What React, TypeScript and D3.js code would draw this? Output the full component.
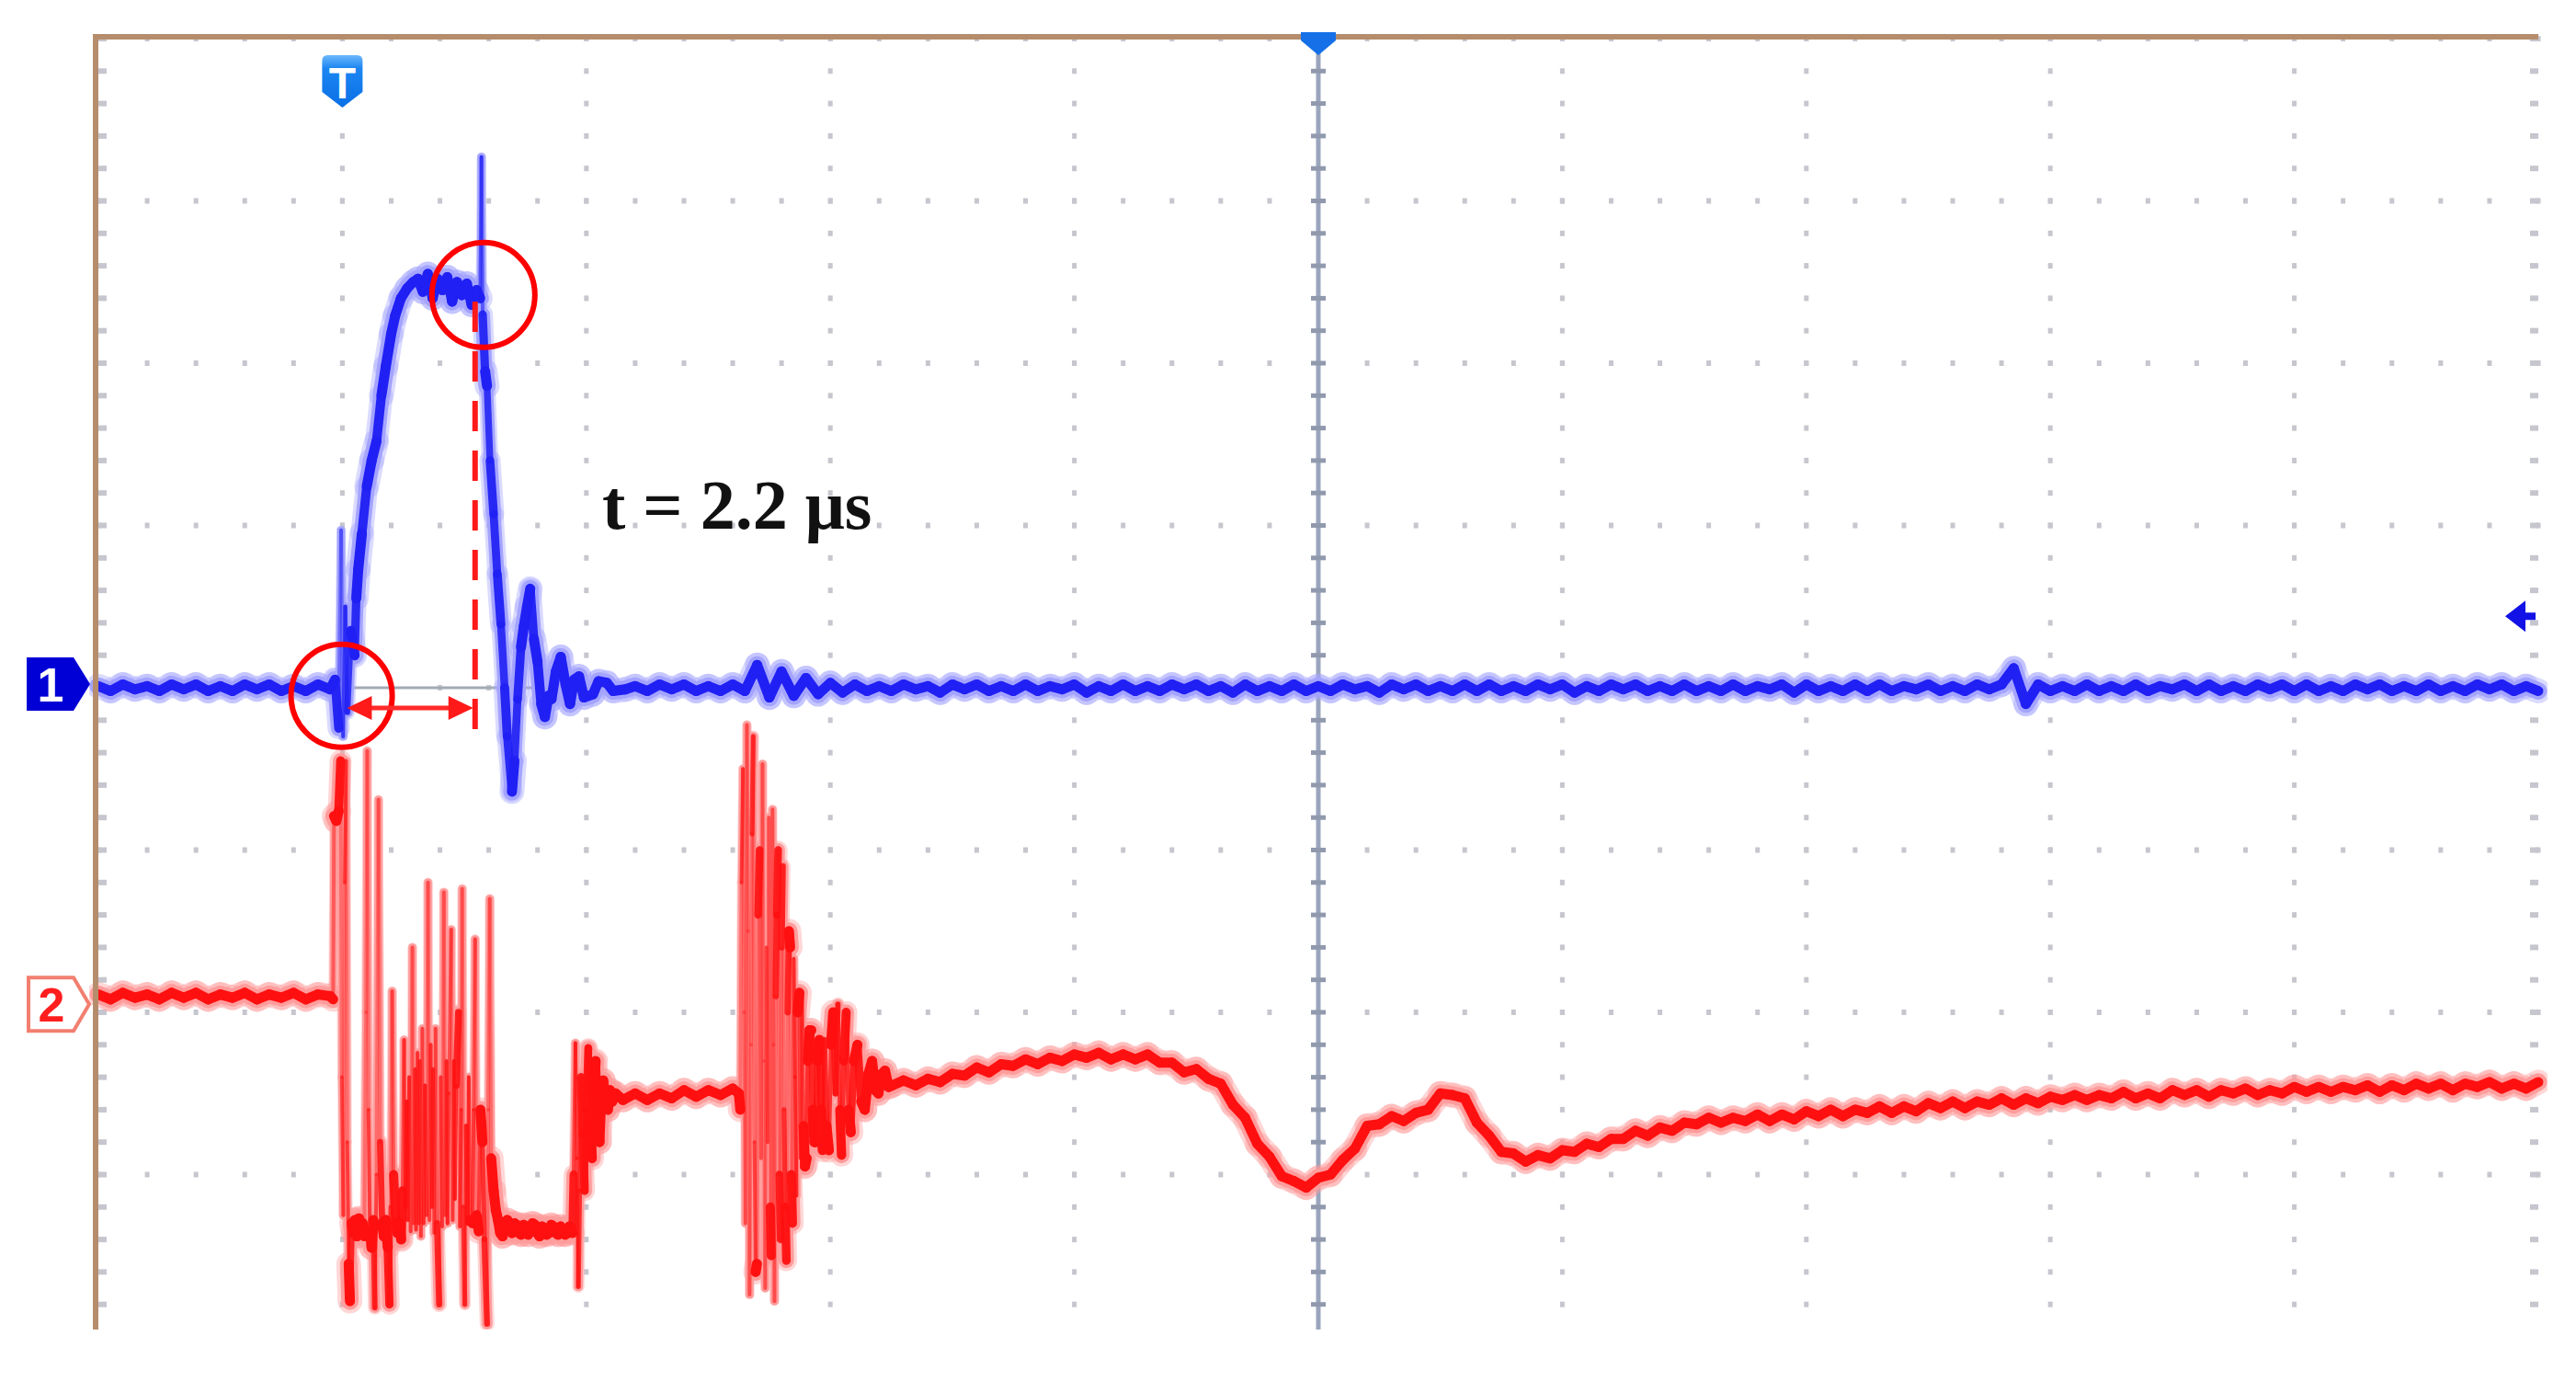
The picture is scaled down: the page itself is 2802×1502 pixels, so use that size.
import React from 'react';
import * as d3 from 'd3';

// ---------- data (time in screen divisions 0..10, amplitude in divisions, ch1 ground = 0) ----------
const bluePreT0 = 0;
const bluePreStep = 0.05;
const bluePre = [0.01, -0.02, 0.02, -0.01, 0.01, -0.02, 0.02, -0.01, 0.02, -0.02, 0.01, -0.02, 0.02, -0.01, 0.02, -0.02, 0.01, -0.02, 0.02, -0.01];

const bluePulse: [number, number][] = [
  [0.97, 0.05], [0.985, -0.25], [0.995, 0.97], [1.003, -0.3], [1.012, 0.5], [1.02, -0.15], [1.035, 0.35], [1.05, 0.2],
  [1.057, 0.55], [1.065, 0.73], [1.08, 0.95], [1.1, 1.24], [1.12, 1.4], [1.14, 1.52], [1.16, 1.8], [1.178, 1.98],
  [1.2, 2.18], [1.216, 2.29], [1.24, 2.4], [1.265, 2.46], [1.29, 2.5], [1.31, 2.52], [1.33, 2.44], [1.35, 2.55],
  [1.37, 2.4], [1.39, 2.52], [1.41, 2.45], [1.43, 2.53], [1.45, 2.38], [1.47, 2.5], [1.49, 2.42], [1.51, 2.49],
  [1.53, 2.36], [1.55, 2.45], [1.565, 2.4], [1.57, 3.27], [1.575, 2.3], [1.585, 1.95], [1.593, 1.86], [1.605, 1.4],
  [1.62, 1.07], [1.635, 0.7], [1.65, 0.39], [1.665, 0.0], [1.676, -0.3], [1.695, -0.64], [1.705, -0.45], [1.718, -0.07],
  [1.732, 0.25], [1.744, 0.38], [1.757, 0.5], [1.77, 0.61], [1.785, 0.3], [1.8, 0.16], [1.815, -0.1], [1.83, -0.18],
  [1.845, -0.05], [1.857, -0.07], [1.875, 0.1], [1.895, 0.19], [1.915, 0.02], [1.933, -0.1], [1.95, 0.05], [1.97, 0.07],
  [1.99, -0.06], [2.027, -0.04], [2.05, 0.04], [2.084, 0.03], [2.11, -0.02], [2.16, -0.01],
];

const blueTailT0 = 2.2;
const blueTailStep = 0.05;
const blueTail = [
  0.01, -0.02, 0.02, -0.01, 0.02, -0.02, 0.01, -0.02, 0.02, -0.02,
  0.14, -0.06, 0.1, -0.05, 0.06, -0.04, 0.03, -0.03, 0.02, -0.02,
  0.01, -0.02, 0.02, -0.01, 0.01, -0.03, 0.02, -0.01, 0.02, -0.02,
  0.01, -0.02, 0.02, -0.02, 0.01, -0.01, 0.02, -0.03, 0.01, -0.02,
  0.02, -0.02, 0.01, -0.02, 0.02, -0.01, 0.02, -0.02, 0.01, -0.03,
  0.02, -0.02, 0.01, -0.02, 0.02, -0.02, 0.01, -0.02, 0.02, -0.01,
  0.01, -0.03, 0.02, -0.01, 0.02, -0.02, 0.01, -0.02, 0.02, -0.02,
  0.02, -0.02, 0.01, -0.02, 0.02, -0.01, 0.02, -0.03, 0.01, -0.02,
  0.02, -0.01, 0.02, -0.02, 0.01, -0.02, 0.02, -0.02, 0.01, -0.02,
  0.02, -0.02, 0.01, -0.01, 0.02, -0.03, 0.02, -0.02, 0.01, -0.02,
  0.02, -0.02, 0.02, -0.02, 0.01, -0.01, 0.02, -0.02, 0.01, -0.02,
  0.02, -0.01, 0.02, 0.12, -0.1, 0.02, -0.02, 0.01, -0.02, 0.02,
  -0.02, 0.01, -0.02, 0.02, -0.02, 0.01, -0.01, 0.02, -0.02, 0.02,
  -0.02, 0.01, -0.02, 0.02, -0.01, 0.02, -0.02, 0.02, -0.02, 0.01,
  -0.02, 0.02, -0.01, 0.02, -0.02, 0.01, -0.02, 0.02, -0.02, 0.01,
  -0.02, 0.02, -0.01, 0.02, -0.02, 0.01, -0.02,
];

const redPreT0 = 0;
const redPreStep = 0.05;
const redPre = [-1.89, -1.92, -1.88, -1.91, -1.89, -1.92, -1.88, -1.91, -1.88, -1.92, -1.89, -1.91, -1.88, -1.92, -1.89, -1.91, -1.88, -1.92, -1.89, -1.9];

const redBurst1: [number, number][] = [
  [0.962, -1.92], [0.966, -0.79], [0.975, -0.82], [0.985, -0.76], [0.993, -0.45], [0.998, -2.4], [1.004, -3.25], [1.01, -1.2],
  [1.015, -0.45], [1.02, -2.8], [1.026, -3.55], [1.031, -3.78], [1.038, -3.3], [1.045, -3.36], [1.052, -3.28], [1.06, -3.38],
  [1.068, -3.27], [1.076, -3.35], [1.083, -3.3], [1.09, -3.38], [1.097, -2.0], [1.102, -0.39], [1.107, -2.6], [1.113, -3.35],
  [1.12, -3.45], [1.127, -3.28], [1.133, -3.82], [1.14, -3.0], [1.148, -0.69], [1.155, -2.8], [1.163, -3.3], [1.17, -3.38],
  [1.178, -3.28], [1.186, -3.45], [1.193, -3.8], [1.199, -3.2], [1.204, -1.87], [1.21, -3.0], [1.219, -3.3], [1.226, -3.36],
  [1.234, -3.3], [1.241, -3.4], [1.247, -3.1], [1.253, -2.17], [1.259, -3.2], [1.264, -2.55], [1.268, -3.28], [1.274, -2.4],
  [1.28, -3.35], [1.287, -1.6], [1.293, -3.3], [1.298, -2.35], [1.302, -3.34], [1.308, -2.25], [1.313, -3.3], [1.317, -2.3],
  [1.322, -3.38], [1.328, -2.1], [1.333, -3.3], [1.339, -2.45], [1.345, -3.25], [1.351, -1.2], [1.357, -3.28], [1.362, -2.2],
  [1.367, -3.2], [1.372, -2.35], [1.377, -3.36], [1.382, -2.1], [1.388, -3.3], [1.397, -3.8], [1.403, -2.4], [1.409, -3.32],
  [1.416, -1.26], [1.422, -3.25], [1.427, -2.3], [1.431, -3.3], [1.437, -2.5], [1.446, -1.49], [1.452, -3.28], [1.457, -2.3],
  [1.461, -3.15], [1.467, -2.45], [1.476, -2.0], [1.482, -3.32], [1.487, -2.6], [1.491, -1.24], [1.496, -3.2], [1.502, -3.8],
  [1.508, -2.7], [1.513, -3.3], [1.518, -2.4], [1.524, -3.28], [1.533, -3.3], [1.538, -2.6], [1.544, -1.55], [1.55, -3.25],
  [1.559, -3.35], [1.566, -2.6], [1.574, -2.8], [1.582, -3.4], [1.593, -3.92], [1.598, -2.6], [1.604, -1.3], [1.61, -2.9],
  [1.62, -3.1], [1.629, -3.22], [1.638, -3.28], [1.647, -3.36], [1.657, -3.38], [1.666, -3.3],
  [1.676, -3.28], [1.686, -3.34], [1.695, -3.36], [1.705, -3.3], [1.714, -3.31], [1.724, -3.36], [1.733, -3.37], [1.743, -3.31],
  [1.752, -3.32], [1.761, -3.37], [1.77, -3.35], [1.78, -3.3], [1.789, -3.31], [1.799, -3.36], [1.808, -3.38], [1.818, -3.32],
  [1.827, -3.33], [1.837, -3.37], [1.846, -3.36], [1.856, -3.31], [1.865, -3.32], [1.875, -3.36], [1.884, -3.37], [1.894, -3.32],
  [1.903, -3.34], [1.913, -3.37], [1.922, -3.36], [1.93, -3.32], [1.937, -3.33], [1.943, -3.36],
  [1.948, -3.0], [1.955, -2.19], [1.961, -2.9], [1.967, -3.69], [1.972, -3.1], [1.978, -2.4], [1.985, -2.75], [1.993, -3.1],
  [2.0, -2.6], [2.008, -2.22], [2.015, -2.65], [2.023, -2.9], [2.03, -2.5], [2.038, -2.3], [2.046, -2.62], [2.054, -2.8],
  [2.061, -2.55], [2.069, -2.42], [2.078, -2.58], [2.088, -2.6], [2.097, -2.48], [2.106, -2.55],
];

const redMid: [number, number][] = [
  [2.12, -2.5], [2.15, -2.54], [2.2, -2.5], [2.25, -2.54], [2.3, -2.5], [2.35, -2.53], [2.4, -2.48], [2.45, -2.52],
  [2.5, -2.48], [2.55, -2.51], [2.6, -2.47], [2.625, -2.5],
];

const redBurst2: [number, number][] = [
  [2.631, -2.6], [2.636, -1.2], [2.642, -0.5], [2.647, -2.0], [2.652, -3.3], [2.658, -0.23], [2.663, -1.5], [2.669, -3.74],
  [2.675, -2.2], [2.679, -0.9], [2.684, -0.3], [2.689, -2.8], [2.694, -3.6], [2.699, -3.55], [2.704, -1.4], [2.71, -1.0],
  [2.716, -2.9], [2.722, -0.47], [2.727, -2.3], [2.733, -3.7], [2.738, -1.6], [2.743, -2.8], [2.748, -0.8], [2.754, -3.2],
  [2.758, -3.5], [2.763, -0.75], [2.767, -2.2], [2.771, -3.78], [2.776, -1.9], [2.781, -1.4], [2.786, -1.0], [2.791, -3.0],
  [2.796, -3.4], [2.8, -1.6], [2.805, -1.1], [2.81, -2.6], [2.815, -3.2], [2.82, -3.53], [2.825, -2.0], [2.83, -1.5],
  [2.835, -1.6], [2.84, -3.0], [2.845, -3.3], [2.85, -1.67], [2.855, -2.4], [2.861, -3.13], [2.866, -2.0], [2.873, -1.88],
  [2.878, -2.9], [2.884, -1.88], [2.89, -2.7], [2.896, -2.95], [2.903, -2.9], [2.908, -2.3], [2.915, -2.11], [2.922, -2.11],
  [2.928, -2.6], [2.935, -2.8], [2.941, -2.8], [2.948, -2.3], [2.955, -2.17], [2.962, -2.6], [2.968, -2.85], [2.975, -2.17],
  [2.984, -2.7], [2.994, -2.85], [3.003, -2.2], [3.012, -2.0], [3.021, -2.5], [3.031, -1.95], [3.039, -2.6], [3.046, -2.88],
  [3.055, -2.3], [3.065, -2.0], [3.075, -2.6], [3.084, -2.74], [3.097, -2.3], [3.111, -2.2], [3.126, -2.55], [3.141, -2.6],
  [3.156, -2.38], [3.171, -2.3], [3.184, -2.48], [3.197, -2.5], [3.211, -2.38], [3.224, -2.36], [3.239, -2.46], [3.254, -2.45],
];

const redTailT0 = 3.3;
const redTailStep = 0.05;
const redTail = [
  -2.42, -2.45, -2.41, -2.43, -2.38, -2.39, -2.34, -2.37, -2.32, -2.33,
  -2.29, -2.32, -2.28, -2.3, -2.26, -2.28, -2.25, -2.29, -2.26, -2.29,
  -2.26, -2.31, -2.31, -2.37, -2.35, -2.41, -2.44, -2.57, -2.65, -2.81,
  -2.89, -3.01, -3.04, -3.08, -3.02, -3.0, -2.91, -2.84, -2.7, -2.69,
  -2.64, -2.67, -2.62, -2.6, -2.5, -2.51, -2.53, -2.68, -2.76, -2.86,
  -2.87, -2.92, -2.88, -2.9, -2.85, -2.86, -2.81, -2.83, -2.78, -2.78,
  -2.73, -2.76, -2.71, -2.73, -2.68, -2.69, -2.65, -2.68, -2.65, -2.67,
  -2.63, -2.67, -2.63, -2.66, -2.61, -2.64, -2.6, -2.64, -2.6, -2.62,
  -2.58, -2.62, -2.58, -2.61, -2.56, -2.59, -2.55, -2.59, -2.55, -2.57,
  -2.53, -2.57, -2.53, -2.56, -2.52, -2.54, -2.51, -2.54, -2.51, -2.53,
  -2.49, -2.53, -2.5, -2.53, -2.48, -2.51, -2.48, -2.52, -2.48, -2.5,
  -2.47, -2.51, -2.48, -2.5, -2.46, -2.49, -2.46, -2.49, -2.46, -2.48,
  -2.45, -2.49, -2.45, -2.48, -2.44, -2.47, -2.44, -2.48, -2.44, -2.46,
  -2.43, -2.47, -2.44, -2.47, -2.43,
];

// reference markers / annotation values
const triggerTime = 1.0;
const centerTime = 5.0;
const ch1Ground = 0;
const ch2Ground = -1.95;
const triggerLevel = 0.44;
const markCircles: [number, number][] = [[0.997, -0.05], [1.578, 2.42]];
const cursorTime = 1.544;
const cursorRange: [number, number] = [2.38, -0.256];
const arrowSpan: [number, number] = [1.019, 1.544];
const arrowLevel = -0.125;
const labelText = 't = 2.2 μs';
const labelPos: [number, number] = [2.065, 0.983];

// ---------- layout ----------
const W = 2802;
const H = 1502;
const X0 = 107, X1 = 2761, Y0 = 42, Y1 = 1454;

const xs = d3.scaleLinear().domain([0, 10]).range([X0, X1]);
const ys = d3.scaleLinear().domain([-4, 4]).range([Y1, Y0]);

const uniform = (t0: number, step: number, vals: number[]): [number, number][] =>
  vals.map((v, i) => [t0 + i * step, v]);

const bluePts: [number, number][] = [
  ...uniform(bluePreT0, bluePreStep, bluePre),
  ...bluePulse,
  ...uniform(blueTailT0, blueTailStep, blueTail),
];
const redPts: [number, number][] = [
  ...uniform(redPreT0, redPreStep, redPre),
  ...redBurst1,
  ...redMid,
  ...redBurst2,
  ...uniform(redTailT0, redTailStep, redTail),
];

type Seg = { x1: number; y1: number; x2: number; y2: number; op: number; k: number };

// intensity grading: long (fast) segments are drawn thinner and fainter
function segments(pts: [number, number][]): Seg[] {
  const out: Seg[] = [];
  for (let i = 1; i < pts.length; i++) {
    const x1 = xs(pts[i - 1][0]), y1 = ys(pts[i - 1][1]);
    const x2 = xs(pts[i][0]), y2 = ys(pts[i][1]);
    const L = Math.hypot(x2 - x1, y2 - y1);
    const k = Math.min(1, Math.max(0, (L - 40) / 80));
    const op = 1 - 0.65 * Math.min(1, Math.max(0, (L - 40) / 200));
    out.push({ x1, y1, x2, y2, op, k });
  }
  return out;
}

function Trace({ pts, core, glow }: { pts: [number, number][]; core: string; glow: string }) {
  const segs = segments(pts);
  const ln = (s: Seg, i: number, key: string, stroke: string, w: number, op: number) => (
    <line key={key + i} x1={s.x1} y1={s.y1} x2={s.x2} y2={s.y2} stroke={stroke} strokeOpacity={op} strokeWidth={w} strokeLinecap="round" />
  );
  return (
    <g>
      <g>{segs.map((s, i) => ln(s, i, 'f', glow, 27 - 17 * s.k, 0.4))}</g>
      <g>{segs.map((s, i) => ln(s, i, 'g', glow, 19 - 11 * s.k, 1))}</g>
      <g>{segs.map((s, i) => ln(s, i, 'c', core, 11 - 7 * s.k, s.op))}</g>
    </g>
  );
}

function Grid() {
  const dotColor = '#c6c6ce';
  const els: React.ReactNode[] = [];
  const dxMinor = (X1 - X0) / 50;
  const dyMinor = (Y1 - Y0) / 40;
  for (let i = 0; i <= 10; i++) {
    if (i === 5) continue;
    const x = xs(i);
    for (let j = 0; j <= 40; j++) {
      const y = Y0 + j * dyMinor;
      const w = i === 0 || i === 10 ? 9 : 5;
      const xx = i === 0 ? x : i === 10 ? x - w : x - 2.5;
      els.push(<rect key={`v${i}-${j}`} x={xx} y={y - 3} width={w} height={6} fill={dotColor} />);
    }
  }
  for (let k = 0; k <= 8; k++) {
    const y = ys(-4 + k);
    for (let m = 0; m <= 50; m++) {
      const x = X0 + m * dxMinor;
      const h = k === 0 ? 11 : 6;
      const yy = k === 0 ? y : y - 3;
      els.push(<rect key={`h${k}-${m}`} x={x - 2.5} y={yy} width={5} height={h} fill={dotColor} />);
    }
  }
  const cx = xs(centerTime);
  els.push(<line key="cline" x1={cx} x2={cx} y1={Y0} y2={Y1} stroke="#9aa5bd" strokeWidth={5} />);
  for (let j = 0; j <= 40; j++) {
    const y = Y0 + j * dyMinor;
    els.push(<rect key={`c${j}`} x={cx - 8} y={y - 2.5} width={16} height={5} fill="#9099ad" />);
  }
  els.push(<line key="gnd" x1={X0} x2={X1} y1={ys(ch1Ground)} y2={ys(ch1Ground)} stroke="#a3aab4" strokeWidth={3} />);
  return <g>{els}</g>;
}

export default function App() {
  const c1 = markCircles[0];
  const c2 = markCircles[1];
  const ax0 = xs(arrowSpan[0]);
  const ax1 = xs(arrowSpan[1]);
  const ay = ys(arrowLevel);
  const tx = xs(triggerTime);
  const cx = xs(centerTime);
  const g1 = ys(ch1Ground) - 4;
  const g2 = ys(ch2Ground);
  const tl = ys(triggerLevel);
  return (
    <svg width={W} height={H} style={{ position: 'absolute', left: 0, top: 0, display: 'block', background: '#fff' }}>
      <defs>
        <clipPath id="plotClip">
          <rect x={X0 - 10} y={Y0 - 10} width={X1 - X0 + 20} height={1446 - Y0 + 10} />
        </clipPath>
        <linearGradient id="tGrad" x1="0" y1="0" x2="0" y2="1">
          <stop offset="0" stopColor="#6db8fb" />
          <stop offset="0.25" stopColor="#1c86f2" />
          <stop offset="1" stopColor="#0a6fe6" />
        </linearGradient>
      </defs>
      <rect x={0} y={0} width={W} height={H} fill="#fff" />
      <g clipPath="url(#plotClip)">
        <Grid />
        <Trace pts={redPts} core="#ff1010" glow="#ff9c9c" />
        <Trace pts={bluePts} core="#2020f4" glow="#a4a4ff" />
      </g>

      <rect x={101} y={37} width={X1 - 101} height={6} fill="#b68d6c" />
      <rect x={101} y={37} width={6} height={1446 - 37} fill="#b68d6c" />

      <ellipse cx={xs(c1[0])} cy={ys(c1[1])} rx={55} ry={56} fill="none" stroke="#ff0000" strokeWidth={6} />
      <ellipse cx={xs(c2[0])} cy={ys(c2[1])} rx={56} ry={57} fill="none" stroke="#ff0000" strokeWidth={6} />
      <line x1={xs(cursorTime)} x2={xs(cursorTime)} y1={ys(cursorRange[0])} y2={ys(cursorRange[1])}
        stroke="#ff1a1a" strokeWidth={6} strokeDasharray="33 21" />
      <line x1={ax0 + 20} x2={ax1 - 22} y1={ay} y2={ay} stroke="#ff2a2a" strokeWidth={5} />
      <path d={`M${ax0},${ay} L${ax0 + 27},${ay - 13} L${ax0 + 27},${ay + 13} Z`} fill="#ff1a1a" />
      <path d={`M${ax1 - 2},${ay} L${ax1 - 29},${ay - 13} L${ax1 - 29},${ay + 13} Z`} fill="#ff1a1a" />
      <text x={xs(labelPos[0])} y={ys(labelPos[1])} fontFamily="'Liberation Serif', serif" fontWeight="bold" fontSize={76} fill="#111">
        {labelText}
      </text>

      <path d={`M${tx - 22},${66} Q${tx - 22},60 ${tx - 16},60 L${tx + 16},60 Q${tx + 22},60 ${tx + 22},66 L${tx + 22},100 L${tx},117 L${tx - 22},100 Z`} fill="url(#tGrad)" />
      <text x={tx} y={107} textAnchor="middle" fontFamily="'Liberation Sans', Arial, sans-serif" fontWeight="bold" fontSize={48} fill="#fff">T</text>

      <path d={`M${cx - 19},35 L${cx + 19},35 L${cx + 19},44 L${cx},60 L${cx - 19},44 Z`} fill="#1670e8" />

      <path d={`M${X1 - 36},${tl} L${X1 - 14},${tl - 17} L${X1 - 14},${tl - 4} L${X1 - 3},${tl - 4} L${X1 - 3},${tl + 4} L${X1 - 14},${tl + 4} L${X1 - 14},${tl + 17} Z`} fill="#1212e6" />

      <path d={`M29,${g1 - 29} L80,${g1 - 29} L98,${g1} L80,${g1 + 29} L29,${g1 + 29} Z`} fill="#0000d6" />
      <text x={55} y={g1 + 19} textAnchor="middle" fontFamily="'Liberation Sans', Arial, sans-serif" fontWeight="bold" fontSize={52} fill="#fff">1</text>

      <path d={`M31,${g2 - 29} L80,${g2 - 29} L97,${g2} L80,${g2 + 29} L31,${g2 + 29} Z`} fill="#fff" stroke="#f27f70" strokeWidth={4} />
      <text x={56} y={g2 + 19} textAnchor="middle" fontFamily="'Liberation Sans', Arial, sans-serif" fontWeight="bold" fontSize={52} fill="#ff1e1e">2</text>
    </svg>
  );
}
